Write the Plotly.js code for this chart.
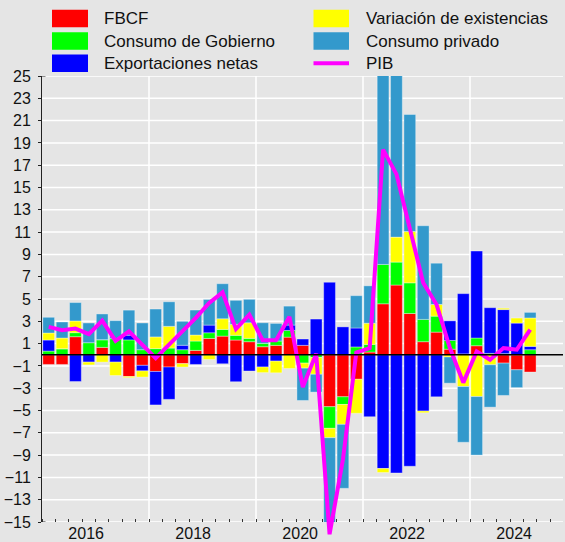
<!DOCTYPE html>
<html><head><meta charset="utf-8">
<script src="https://cdn.plot.ly/plotly-3.0.1.min.js"></script>
<style>html,body{margin:0;padding:0;background:#e5e5e5;} #chart{width:565px;height:542px;}</style>
</head><body><div id="chart"></div>
<script>
// ---------- data ----------
const quarters = ['2015T1','2015T2','2015T3','2015T4','2016T1','2016T2','2016T3','2016T4',
  '2017T1','2017T2','2017T3','2017T4','2018T1','2018T2','2018T3','2018T4',
  '2019T1','2019T2','2019T3','2019T4','2020T1','2020T2','2020T3','2020T4',
  '2021T1','2021T2','2021T3','2021T4','2022T1','2022T2','2022T3','2022T4',
  '2023T1','2023T2','2023T3','2023T4','2024T1'];
const fbcf  = [-0.87,-0.87,1.62,0,0.66,0,-1.95,-0.95,-1.5,-1.1,-0.8,0.39,1.46,1.67,1.32,1.17,0.72,0.84,1.58,0.84,0,-4.66,-3.77,-2.2,0.24,4.57,6.25,3.7,1.17,2.03,0.5,0,0.81,0,-0.75,-1.35,-1.55];
const gob   = [0.33,0.54,0.36,1.08,0.69,1.44,1.33,0.45,0.55,0.6,0.45,0.84,0.51,0.6,0.42,0.3,0.3,0.39,0.6,-0.75,-0.25,-1.94,-0.69,0.7,0.69,3.53,2.06,2.75,2.0,1.43,0.78,0.08,0.69,0.12,0.1,0,0.45];
const expn  = [0.99,0,-2.4,-0.66,0,-0.66,0.42,-0.5,-3.0,-2.9,0.4,-0.87,0.69,-0.81,-2.42,-1.46,-1.1,-0.57,0.48,0.57,3.2,6.5,2.5,1.7,-5.56,-10.2,-10.6,-10.0,-5.05,-3.77,1.76,5.4,7.8,4.1,3.95,2.84,0.3];
const varex = [0.63,0.96,1.05,-0.25,-0.66,-1.2,-0.1,-0.55,1.05,1.95,-0.3,0.54,-0.42,0.96,0.99,1.4,-0.5,-1.05,-1.23,-0.45,-1.5,-0.84,-1.78,-3.05,1.9,-0.36,2.24,4.6,-0.15,1.05,-0.2,-2.85,-3.75,-0.9,0.12,0.45,2.55];
const cpriv = [1.41,1.44,1.65,1.77,2.31,1.62,2.25,2.4,2.5,2.2,2.15,2.24,2.3,3.14,2.15,2.1,1.85,1.58,1.7,-2.9,-1.6,-15.3,-5.74,2.9,3.35,20.9,16.25,10.5,8.4,3.7,-2.35,-5.0,-5.25,-3.8,-2.9,-1.6,0.5];
const pib   = [2.5,2.2,2.35,1.85,3.05,1.25,2.1,0.9,-0.3,0.9,2.1,3.3,4.65,5.6,2.3,3.6,1.3,1.3,3.4,-2.9,0.1,-16.1,-9.4,0.2,0.6,18.4,16.2,11.5,6.45,4.5,0.6,-2.5,0.3,-0.45,0.6,0.45,2.25];
const seriesNames = ['FBCF','Consumo de Gobierno','Exportaciones netas','Variación de existencias','Consumo privado','PIB'];
const yTickVals = [-15,-13,-11,-9,-7,-5,-3,-1,1,3,5,7,9,11,13,15,17,19,21,23,25];
const labelYears = [2016,2018,2020,2022,2024];
const gridYears = [2017,2019,2021,2023];

// ---------- layout constants ----------
const W = 565, H = 542;
const M = {l:42, r:2, t:76, b:4};
const plotW = W - M.l - M.r, plotH = H - M.t - M.b;
const yBottomPx = 522;               // pixel of y=-15
const pxPerUnit = (yBottomPx - M.t) / 40;
const pxPerYear = 53.5;
const xRange = [2015, 2015 + plotW / pxPerYear];
const yMainDom0 = (H - M.b - yBottomPx) / plotH;
const y2Range = [-15 - (H - M.b - yBottomPx) / pxPerUnit, 25];
const px2x = px => (px - M.l) / plotW;
const py2y = py => (H - M.b - py) / plotH;

const colors = ['#ff0000','#00ff00','#0000ff','#ffff00','#3399cc','#ff00ff'];
const xs = quarters.map(q => { const yr = +q.slice(0,4), k = +q.slice(5); return yr + (k - 0.5) / 4; });

const barSeries = [fbcf, gob, expn, varex, cpriv];
const traces = barSeries.map((vals, i) => ({
  type: 'bar', x: xs, y: vals, name: seriesNames[i], width: 0.22,
  marker: {color: colors[i], line: {color: 'rgba(255,255,255,0.35)', width: 1}},
  showlegend: false, hoverinfo: 'x+y+name'
}));
traces.push({type: 'scatter', mode: 'lines', x: xs, y: pib, name: seriesNames[5],
  xaxis: 'x2', yaxis: 'y2', line: {color: colors[5], width: 4}, showlegend: false});

const shapes = [];
const annotations = [];
// gridlines (below everything)
yTickVals.forEach(v => shapes.push({type:'line', layer:'below', xref:'paper', x0:0, x1:1, yref:'y', y0:v, y1:v, line:{color:'#ffffff', width:1.5}}));
gridYears.forEach(v => shapes.push({type:'line', layer:'below', xref:'x', x0:v, x1:v, yref:'paper', y0:yMainDom0, y1:1, line:{color:'#ffffff', width:1.5}}));
// small end caps of the y axis line
[-15, 25].forEach(v => shapes.push({type:'line', xref:'paper', x0:0, x1:px2x(M.l + 3.5), yref:'y', y0:v, y1:v, line:{color:'#222', width:1}}));

// custom legend (shapes + annotations)
const legRows = [18.5, 41, 63.3];
const legCols = [{sx0: 52, sx1: 88, tx: 102}, {sx0: 313.5, sx1: 349, tx: 364}];
const legOrder = [[0,0,0],[0,1,1],[0,2,2],[1,0,3],[1,1,4],[1,2,5]];
legOrder.forEach(([c, r, si]) => {
  const col = legCols[c], cy = legRows[r];
  if (si === 5) {
    shapes.push({type:'line', xref:'paper', yref:'paper', x0:px2x(col.sx0), x1:px2x(col.sx1), y0:py2y(cy), y1:py2y(cy), line:{color:colors[si], width:4}});
  } else {
    shapes.push({type:'rect', xref:'paper', yref:'paper', x0:px2x(col.sx0), x1:px2x(col.sx1), y0:py2y(cy+8.7), y1:py2y(cy-8.7), line:{width:0}, fillcolor:colors[si]});
  }
  annotations.push({xref:'paper', yref:'paper', x:px2x(col.tx), y:py2y(cy), xanchor:'left', yanchor:'middle', showarrow:false, text:seriesNames[si], font:{size:17, color:'#111'}});
});
// zero line
shapes.push({type:'line', xref:'paper', x0:0, x1:1, yref:'y', y0:0, y1:0, line:{color:'#000', width:1.3}, layer:'above'});

const layout = {
  width: W, height: H, margin: M,
  paper_bgcolor: '#e5e5e5', plot_bgcolor: 'rgba(0,0,0,0)',
  font: {family: 'Liberation Sans, Arial, sans-serif', color: '#111', size: 16},
  barmode: 'relative', showlegend: false,
  xaxis: {domain:[0,1], anchor:'y', range:xRange, tickmode:'array',
    tickvals: labelYears.map(y => y - 0.175), ticktext: labelYears.map(String),
    ticks:'', showgrid:false, zeroline:false, showline:false, tickfont:{size:16},
    minor:{tickmode:'linear', tick0:2015, dtick:0.25, ticks:'inside', ticklen:3.5, tickwidth:1, tickcolor:'#333', showgrid:false}},
  xaxis3: {overlaying:'x', anchor:'y', range:xRange, tickmode:'array', tickvals:labelYears,
    ticks:'inside', ticklen:7, tickwidth:1, tickcolor:'#333', showticklabels:false, showgrid:false, zeroline:false, showline:false},
  yaxis: {domain:[yMainDom0, 1], anchor:'x', range:[-15,25], tickmode:'array', tickvals:yTickVals,
    ticks:'outside', ticklen:3, tickwidth:1, tickcolor:'#222', showline:true, linecolor:'#222', linewidth:1,
    showgrid:false, zeroline:false, tickfont:{size:16}, ticklabelstandoff:4},
  xaxis2: {domain:[0,1], anchor:'y2', range:xRange, visible:false},
  yaxis2: {domain:[0,1], anchor:'x2', range:y2Range, visible:false},
  shapes: shapes, annotations: annotations
};
Plotly.newPlot('chart', traces, layout, {displayModeBar:false, staticPlot:true});
</script></body></html>
